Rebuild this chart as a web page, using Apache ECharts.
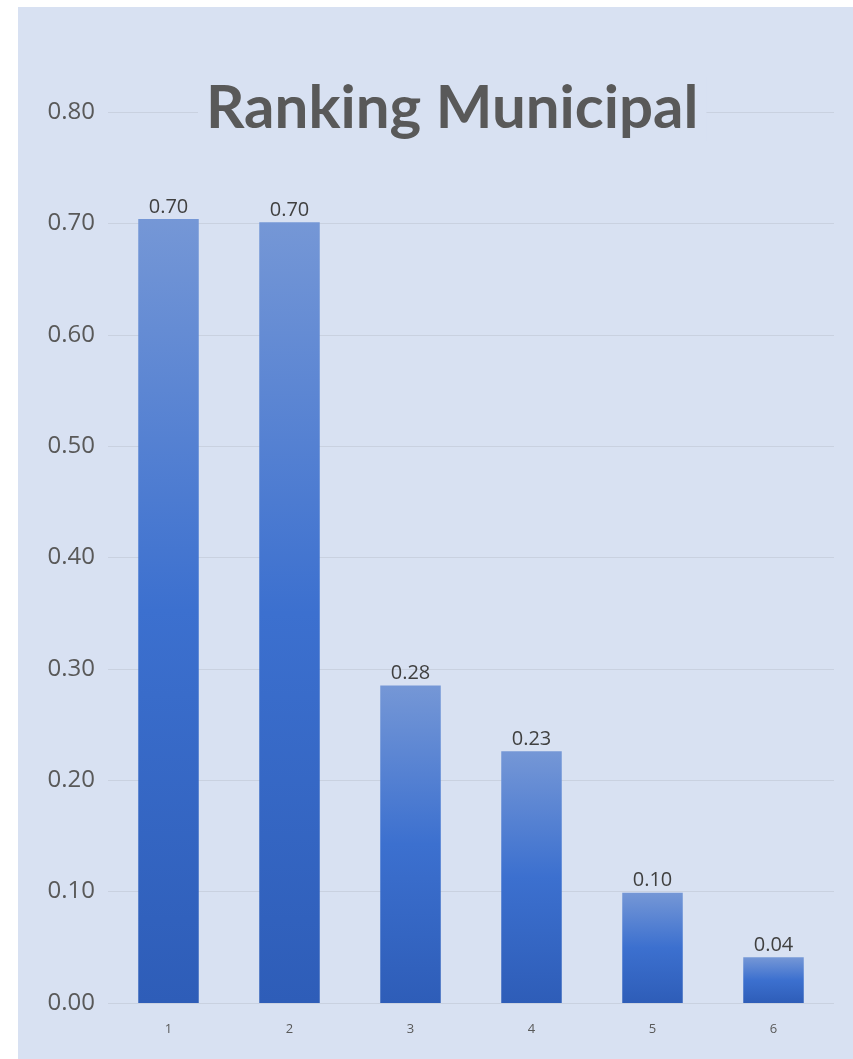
<!DOCTYPE html>
<html>
<head>
<meta charset="utf-8">
<script src="https://cdn.jsdelivr.net/npm/echarts@6/dist/echarts.min.js"></script>
<style>
html,body{margin:0;padding:0;background:#ffffff;width:853px;height:1059px;overflow:hidden;}
#bg{position:absolute;left:18px;top:7px;width:835px;height:1052px;background:#d8e1f2;}
#chart{position:absolute;left:0;top:0;width:853px;height:1059px;}
</style>
</head>
<body>
<div id="bg"></div>
<div id="chart"></div>
<script>
const categories = ['1', '2', '3', '4', '5', '6'];
const values = [0.704, 0.701, 0.285, 0.226, 0.099, 0.041];
const yTicks = [0, 0.1, 0.2, 0.3, 0.4, 0.5, 0.6, 0.7, 0.8];

const chart = echarts.init(document.getElementById('chart'), null, {renderer: 'canvas'});
const bg = '#d8e1f2';
chart.setOption({
  backgroundColor: 'transparent',
  animation: false,
  title: {
    text: 'Ranking Municipal',
    left: 198,
    top: 77,
    padding: [2, 8],
    backgroundColor: bg,
    textStyle: {
      fontFamily: 'Lato',
      fontWeight: 'bold',
      fontSize: 60,
      color: '#595959'
    }
  },
  grid: {left: 108, right: 19, top: 112, bottom: 56, containLabel: false},
  xAxis: {
    type: 'category',
    data: categories,
    axisLine: {show: false},
    axisTick: {show: false},
    axisLabel: {color: '#595959', fontSize: 13, fontFamily: 'Open Sans', margin: 20}
  },
  yAxis: {
    type: 'value',
    min: 0,
    max: 0.8,
    interval: 0.1,
    axisLine: {show: false},
    axisTick: {show: false},
    splitLine: {lineStyle: {color: '#c9d1e0', width: 1}},
    axisLabel: {
      color: '#595959', fontSize: 24, fontFamily: 'Open Sans', margin: 13,
      formatter: v => v.toFixed(2)
    }
  },
  series: [{
    type: 'bar',
    data: values,
    barWidth: '50%',
    itemStyle: {
      color: new echarts.graphic.LinearGradient(0, 0, 0, 1, [
        {offset: 0, color: '#7597d6'},
        {offset: 0.5, color: '#3c70cf'},
        {offset: 1, color: '#2e5db8'}
      ])
    },
    label: {
      show: true,
      position: 'top',
      distance: 2,
      color: '#404040',
      fontSize: 20,
      fontFamily: 'Open Sans',
      formatter: p => p.value.toFixed(2)
    }
  }]
});
</script>
</body>
</html>
